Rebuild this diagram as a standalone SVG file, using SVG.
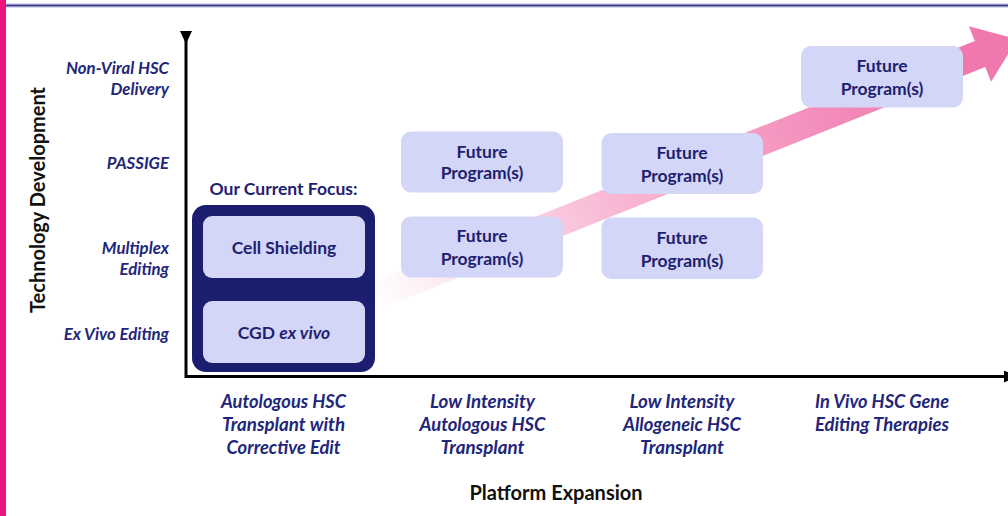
<svg xmlns="http://www.w3.org/2000/svg" width="1008" height="516" viewBox="0 0 1008 516">
  <defs>
    <style>
      .box { fill: #D3D6F7; }
      .frame { fill: #1B1E6F; }
      .bt { font-family: Lato, "Open Sans", "Liberation Sans", sans-serif; font-weight: 700; font-size: 17.5px; fill: #1E2170; text-anchor: middle; }
      .yl { font-family: Lato, "Open Sans", "Liberation Sans", sans-serif; font-weight: 700; font-style: italic; font-size: 16.8px; fill: #22267A; text-anchor: end; }
      .xl { font-family: Lato, "Open Sans", "Liberation Sans", sans-serif; font-weight: 700; font-style: italic; font-size: 18px; fill: #22267A; text-anchor: middle; }
      .ax { font-family: Lato, "Open Sans", "Liberation Sans", sans-serif; font-weight: 700; font-size: 20px; fill: #111111; text-anchor: middle; }
      .axis { stroke: #000000; stroke-width: 3; fill: none; }
    </style>
    <marker id="axhead" markerUnits="userSpaceOnUse" markerWidth="14" markerHeight="12" refX="0" refY="6" orient="auto">
      <path d="M0,0 L13,6 L0,12 z" fill="#000000"/>
    </marker>
    <linearGradient id="pinkgrad" gradientUnits="userSpaceOnUse" x1="0" y1="0" x2="600" y2="0">
      <stop offset="0" stop-color="#F27AB0" stop-opacity="0"/>
      <stop offset="0.45" stop-color="#F27AB0" stop-opacity="0.55"/>
      <stop offset="1" stop-color="#F078AF" stop-opacity="1"/>
    </linearGradient>
  </defs>

  <rect x="0" y="0" width="1008" height="516" fill="#FFFFFF"/>
  <rect x="0" y="0" width="6" height="516" fill="#EB147D"/>
  <line x1="6" y1="5.5" x2="1008" y2="5.5" stroke="#B4B4D8" stroke-width="4"/>
  <line x1="6" y1="5.5" x2="1008" y2="5.5" stroke="#34348A" stroke-width="1.6"/>

  <g id="connectors">
    <g id="trend-arrow" transform="translate(370,298) rotate(-21.8)">
      <polygon points="0,-14 657,-14 657,-30 697,0 657,30 657,14 0,14" fill="url(#pinkgrad)"/>
    </g>
    <g id="axes">
      <polyline class="axis" points="186,31 186,376.5 1004,376.5" marker-start="url(#axhead)" marker-end="url(#axhead)"/>
    </g>
  </g>

  <g id="current-focus">
    <text class="bt" x="283.5" y="195">Our Current Focus:</text>
    <rect class="frame" x="192" y="205" width="183" height="167" rx="14"/>
  </g>
  <g id="node-cell-shielding">
    <rect class="box" x="203" y="216" width="162" height="62" rx="9"/>
    <text class="bt" x="284" y="254">Cell Shielding</text>
  </g>
  <g id="node-cgd">
    <rect class="box" x="203" y="301" width="162" height="62" rx="9"/>
    <text class="bt" x="284" y="339">CGD <tspan font-style="italic">ex vivo</tspan></text>
  </g>

  <g id="node-future-1">
    <rect class="box" x="401" y="131.5" width="162" height="61" rx="10"/>
    <text class="bt" x="482" y="157.5">Future</text>
    <text class="bt" x="482" y="179">Program(s)</text>
  </g>
  <g id="node-future-2">
    <rect class="box" x="401" y="216.5" width="162" height="61" rx="10"/>
    <text class="bt" x="482" y="242">Future</text>
    <text class="bt" x="482" y="264.5">Program(s)</text>
  </g>
  <g id="node-future-3">
    <rect class="box" x="601.5" y="133" width="161.5" height="61" rx="10"/>
    <text class="bt" x="682" y="159">Future</text>
    <text class="bt" x="682" y="181.5">Program(s)</text>
  </g>
  <g id="node-future-4">
    <rect class="box" x="601.5" y="217.5" width="161.5" height="61.5" rx="10"/>
    <text class="bt" x="682" y="244">Future</text>
    <text class="bt" x="682" y="266.5">Program(s)</text>
  </g>
  <g id="node-future-5">
    <rect class="box" x="801" y="46" width="162" height="61.5" rx="10"/>
    <text class="bt" x="882" y="72">Future</text>
    <text class="bt" x="882" y="94.5">Program(s)</text>
  </g>

  <g id="y-labels">
    <text class="yl" x="169" y="74">Non-Viral HSC</text>
    <text class="yl" x="169" y="95">Delivery</text>
    <text class="yl" x="169" y="169">PASSIGE</text>
    <text class="yl" x="169" y="254">Multiplex</text>
    <text class="yl" x="169" y="275">Editing</text>
    <text class="yl" x="169" y="339.5">Ex Vivo Editing</text>
  </g>

  <g id="x-labels">
    <text class="xl" x="283.5" y="408" textLength="125" lengthAdjust="spacingAndGlyphs">Autologous HSC</text>
    <text class="xl" x="283.5" y="431" textLength="123" lengthAdjust="spacingAndGlyphs">Transplant with</text>
    <text class="xl" x="283.5" y="454" textLength="114" lengthAdjust="spacingAndGlyphs">Corrective Edit</text>
    <text class="xl" x="482.5" y="408" textLength="105" lengthAdjust="spacingAndGlyphs">Low Intensity</text>
    <text class="xl" x="482.5" y="431" textLength="126" lengthAdjust="spacingAndGlyphs">Autologous HSC</text>
    <text class="xl" x="482.5" y="454" textLength="84" lengthAdjust="spacingAndGlyphs">Transplant</text>
    <text class="xl" x="682" y="408" textLength="105" lengthAdjust="spacingAndGlyphs">Low Intensity</text>
    <text class="xl" x="682" y="431" textLength="118" lengthAdjust="spacingAndGlyphs">Allogeneic HSC</text>
    <text class="xl" x="682" y="454" textLength="84" lengthAdjust="spacingAndGlyphs">Transplant</text>
    <text class="xl" x="882" y="408" textLength="134" lengthAdjust="spacingAndGlyphs">In Vivo HSC Gene</text>
    <text class="xl" x="882" y="431" textLength="134" lengthAdjust="spacingAndGlyphs">Editing Therapies</text>
  </g>

  <g id="axis-titles">
    <text class="ax" x="556" y="500">Platform Expansion</text>
    <text class="ax" transform="translate(45,200) rotate(-90)" x="0" y="0">Technology Development</text>
  </g>
</svg>
